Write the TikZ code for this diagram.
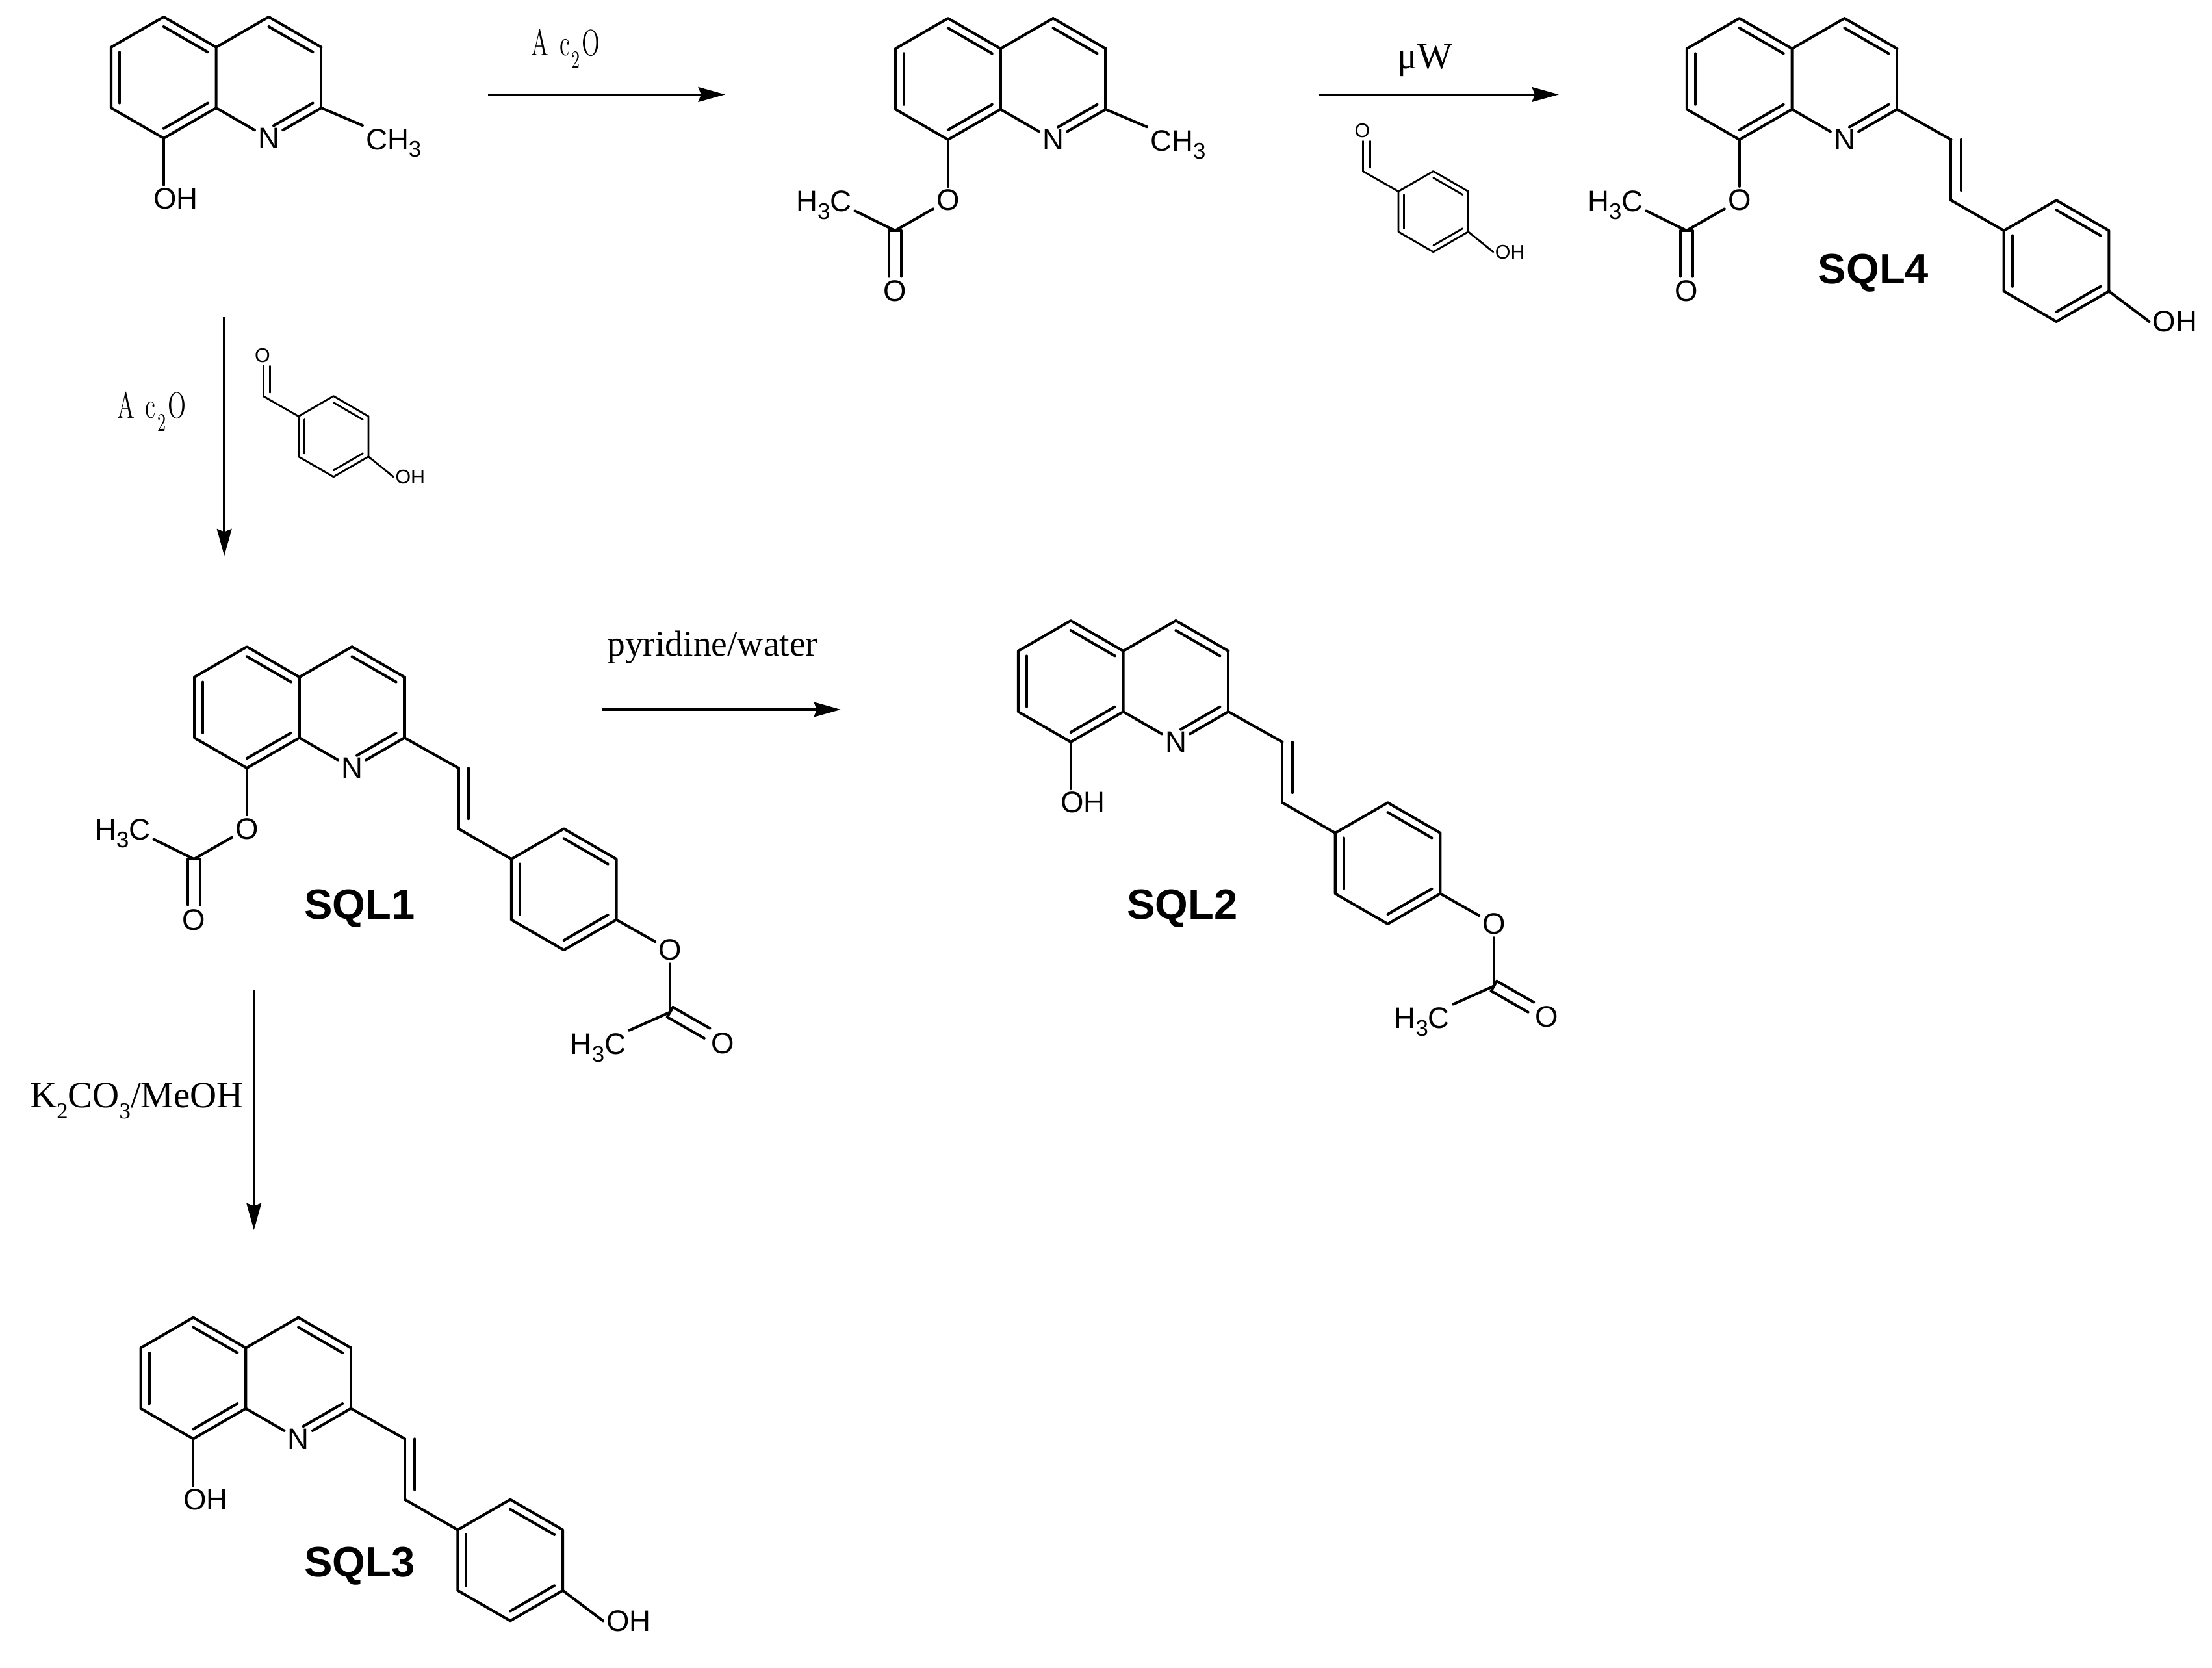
\documentclass[tikz,border=0pt]{standalone}
\usepackage{fontspec}
\usepackage{tkz-euclide}
\usetikzlibrary{arrows.meta}
\newfontfamily\atomfont{Liberation Sans}
\newfontfamily\reagentfont{Liberation Serif}

\tikzset{
  bond/.style={line width=.95pt,line cap=round},
  thinbond/.style={line width=.65pt,line cap=round},
  atom/.style={font=\atomfont\fontsize{10.5}{12}\selectfont,inner sep=1pt},
  smallatom/.style={font=\atomfont\fontsize{7}{8}\selectfont,inner sep=.5pt},
  compound/.style={font=\atomfont\bfseries\fontsize{15}{17}\selectfont,inner sep=0pt},
  reagent/.style={font=\reagentfont\fontsize{13.1}{15}\selectfont,inner sep=0pt},
  anhydride/.style={font=\fontsize{13}{15}\selectfont,inner sep=0pt},
  rxn/.style={line width=.85pt,-{Stealth[length=9.5pt,width=5.2pt,inset=1pt]}}
}
\newcommand{\atomsub}[1]{\raisebox{-2.7pt}{\fontsize{8}{9}\selectfont #1}}
\newcommand{\reagentsub}[1]{\raisebox{-3.8pt}{\fontsize{8}{9}\selectfont #1}}
\newcommand{\AcAnhydride}{\scalebox{.65}[1]{A\hspace{6pt}c\hspace{1pt}\raisebox{-4.5pt}{\fontsize{9}{10}\selectfont 2}\hspace{1pt}O}}

% Rings
\newcommand{\HexRing}[3]{
  \foreach \k/\a in {1/-90,2/-30,3/30,4/90,5/150,6/210}{
    \tkzDefPoint(\a:#2){#1v\k}
    \tkzDefPoint(\a:#3){#1i\k}
  }
}
\newcommand{\RingBonds}[2][bond]{
  \tkzDrawPolygon[#1](#2v1,#2v2,#2v3,#2v4,#2v5,#2v6)
  \tkzDrawSegments[#1](#2i1,#2i2 #2i3,#2i4 #2i5,#2i6)
}
\newcommand{\QuinCore}[1]{
  \HexRing{#1a}{43}{36.1}
  \RingBonds{#1a}
  \begin{scope}[shift={(74.5,0)}]
    \HexRing{#1b}{43}{36.1}
    \node[atom] (#1n) at (0,43) {N};
  \end{scope}
  \tkzDrawSegments[bond](#1bv6,#1bv1 #1bv1,#1bv2 #1bv2,#1bv3 #1bi1,#1bi2)
  \draw[bond] (#1bv3) -- (#1n);
  \draw[bond] (#1bv5) -- (#1n);
  \draw[bond,shorten >=2pt] (#1bi3) -- (#1bi4);
}
% Groups on the quinoline
\newcommand{\EightOH}[1]{
  \node[atom,anchor=west] (#1oh) at (-9.5,86) {OH};
  \draw[bond] (#1av4) -- (#1av4 |- #1oh.north);
}
\newcommand{\EightOAc}[1]{
  \tkzDefPoint(-37.5,107.5){#1c}
  \tkzDefPoint(-41.7,107.5){#1cl}
  \tkzDefPoint(-33.3,107.5){#1cr}
  \tkzDefPoint(-41.7,140){#1dl}
  \tkzDefPoint(-33.3,140){#1dr}
  \node[atom] (#1o) at (0,86) {O};
  \node[atom] (#1oo) at (-37.5,150.5) {O};
  \node[atom,anchor=base east] (#1ac) at (-66,94) {H\atomsub{3}C};
  \draw[bond] (#1av4) -- (#1o);
  \draw[bond] (#1c) -- (#1o);
  \draw[bond] (#1c) -- ([yshift=-2pt]#1ac.east);
  \tkzDrawSegments[bond](#1cl,#1dl #1cr,#1dr #1cl,#1cr)
}
\newcommand{\Methyl}[1]{
  \node[atom,anchor=base west] (#1ch3) at (141,51) {CH\atomsub{3}};
  \draw[bond] (#1bv3) -- (#1ch3.north west);
}
\newcommand{\Styryl}[1]{
  \tkzDefPoint(150,43){#1s}
  \tkzDefPoint(150,86){#1t}
  \tkzDefPoint(157,43){#1si}
  \tkzDefPoint(157,79){#1ti}
  \begin{scope}[shift={(224.7,129)}]
    \HexRing{#1p}{43}{36.1}
  \end{scope}
  \RingBonds{#1p}
  \tkzDrawSegments[bond](#1bv3,#1s #1s,#1t #1si,#1ti #1t,#1pv6)
}
\newcommand{\ParaOH}[1]{
  \node[atom,anchor=west] (#1poh) at (290.5,172) {OH};
  \draw[bond] (#1pv3) -- (#1poh.west);
}
\newcommand{\ParaOAc}[1]{
  \tkzDefPoint(300,216){#1pc}
  \tkzDefPoint(302,212.5){#1pe}
  \tkzDefPoint(298,219.5){#1pf}
  \tkzDefPoint(328.2,227.5){#1pg}
  \tkzDefPoint(324.2,234.5){#1ph}
  \node[atom] (#1po) at (300,172) {O};
  \node[atom] (#1poo) at (337.5,238) {O};
  \node[atom,anchor=base east] (#1pac) at (271,246) {H\atomsub{3}C};
  \draw[bond] (#1pv3) -- (#1po);
  \draw[bond] (#1pc) -- (#1po);
  \draw[bond] (#1pc) -- (#1pac.north east);
  \tkzDrawSegments[bond](#1pe,#1pg #1pf,#1ph #1pe,#1pf)
}
% 4-hydroxybenzaldehyde over an arrow
\newcommand{\Aldehyde}[1]{
  \HexRing{#1r}{28.6}{24}
  \RingBonds[thinbond]{#1r}
  \tkzDefPoint(-49.7,-28.5){#1c}
  \tkzDefPoint(-49.7,-50){#1e}
  \tkzDefPoint(-44.9,-31){#1f}
  \tkzDefPoint(-44.9,-50){#1g}
  \node[smallatom] (#1o) at (-50.3,-57.4) {O};
  \node[smallatom,anchor=west] (#1oh) at (42.5,28.6) {OH};
  \tkzDrawSegments[thinbond](#1rv6,#1c #1c,#1e #1f,#1g)
  \draw[thinbond] (#1rv3) -- (#1oh.west);
}

\begin{document}
\begin{tikzpicture}[x=.5pt,y=-.5pt]
  \useasboundingbox (0,0) rectangle (1568,1182);
  % Compounds
  \begin{scope}[shift={(116,55)}]
    \QuinCore{a}\EightOH{a}\Methyl{a}
  \end{scope}
  \begin{scope}[shift={(672,56)}]
    \QuinCore{b}\EightOAc{b}\Methyl{b}
  \end{scope}
  \begin{scope}[shift={(1233,56)}]
    \QuinCore{c}\EightOAc{c}\Styryl{c}\ParaOH{c}
  \end{scope}
  \begin{scope}[shift={(175,501.5)}]
    \QuinCore{d}\EightOAc{d}\Styryl{d}\ParaOAc{d}
  \end{scope}
  \begin{scope}[shift={(759,483)}]
    \QuinCore{e}\EightOH{e}\Styryl{e}\ParaOAc{e}
  \end{scope}
  \begin{scope}[shift={(137,977)}]
    \QuinCore{f}\EightOH{f}\Styryl{f}\ParaOH{f}
  \end{scope}
  \begin{scope}[shift={(1016,150)}]
    \Aldehyde{g}
  \end{scope}
  \begin{scope}[shift={(236.4,309.4)}]
    \Aldehyde{h}
  \end{scope}
  % Labels
  \node[compound,anchor=base] (sql1) at (255,651.5) {SQL1};
  \node[compound,anchor=base] (sql2) at (838,651.5) {SQL2};
  \node[compound,anchor=base] (sql3) at (255,1117.5) {SQL3};
  \node[compound,anchor=base] (sql4) at (1328,201) {SQL4};
  % Arrows
  \coordinate (r1s) at (346,67);
  \coordinate (r1e) at (514,67);
  \coordinate (r2s) at (935,67);
  \coordinate (r2e) at (1105,67);
  \coordinate (r3s) at (159,225);
  \coordinate (r3e) at (159,394);
  \coordinate (r4s) at (427,503);
  \coordinate (r4e) at (596,503);
  \coordinate (r5s) at (180,702);
  \coordinate (r5e) at (180,872);
  \draw[rxn] (r1s) -- (r1e);
  \draw[rxn] (r2s) -- (r2e);
  \draw[rxn] (r3s) -- (r3e);
  \draw[rxn] (r4s) -- (r4e);
  \draw[rxn] (r5s) -- (r5e);
  % Reagents
  \node[anhydride,anchor=base] (ac1) at (401,39.6) {\AcAnhydride};
  \node[anhydride,anchor=base] (ac2) at (107.5,296.5) {\AcAnhydride};
  \node[reagent,anchor=base] (mw) at (1010,48.5) {μW};
  \node[reagent,anchor=base,font=\reagentfont\fontsize{12.8}{15}\selectfont] (pyr) at (505,465) {pyridine/water};
  \node[reagent,anchor=base] (base) at (97,785.3) {K\reagentsub{2}CO\reagentsub{3}/MeOH};
\end{tikzpicture}
\end{document}
